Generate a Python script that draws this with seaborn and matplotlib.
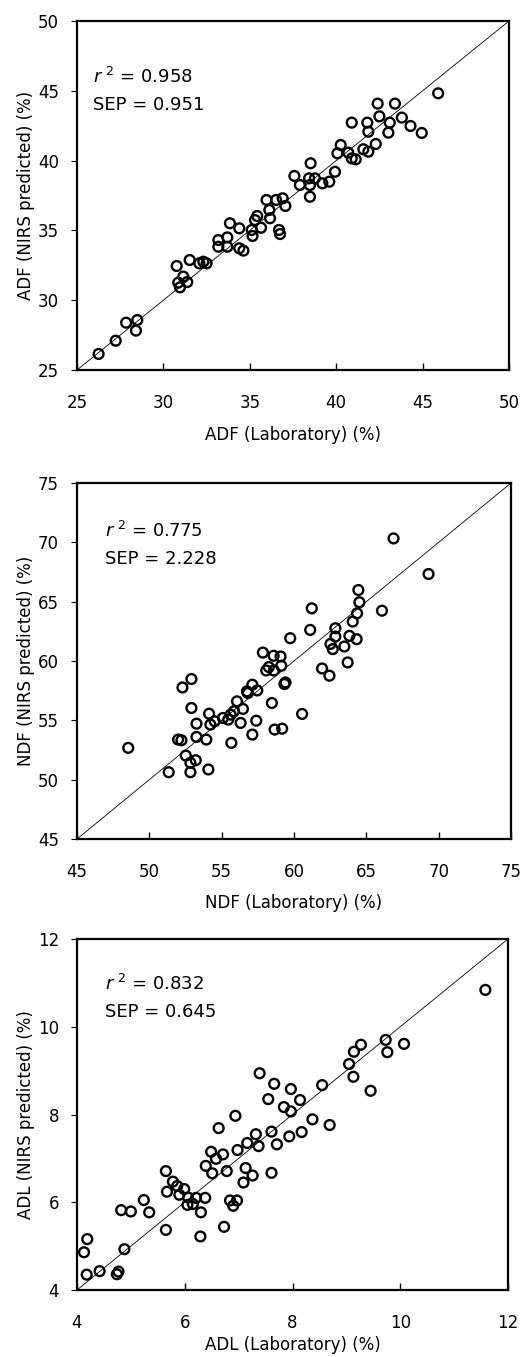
import numpy as np
import pandas as pd
import matplotlib
matplotlib.use('Agg')
import matplotlib.pyplot as plt
import seaborn as sns

# ---------------- data ----------------
adf_lab = [26.25, 27.24, 27.84, 28.49, 28.41,
           30.77, 30.86, 30.96, 31.15, 31.38, 31.52, 32.08, 32.31, 32.50,
           33.18, 33.70, 33.18, 33.70, 34.39, 34.63, 33.85, 34.39,
           35.11, 35.16, 35.65, 36.69, 36.75, 35.43, 35.30, 36.13, 36.17,
           35.97, 36.52, 36.90, 37.06,
           37.58, 37.90, 38.43, 38.48, 38.77, 38.52, 38.48,
           39.20, 39.60, 39.93,
           40.07, 40.26, 40.70, 40.90, 41.13,
           41.57, 41.86, 42.29, 41.86, 43.02, 44.95,
           40.90, 41.80, 42.40, 43.40, 42.50, 43.10, 43.80, 44.30, 45.90]
adf_nirs = [26.15, 27.10, 28.39, 28.58, 27.82,
            32.45, 31.26, 30.92, 31.69, 31.30, 32.88, 32.64, 32.76, 32.64,
            34.31, 34.50, 33.83, 33.83, 33.72, 33.55, 35.51, 35.15,
            35.03, 34.60, 35.19, 35.03, 34.74, 36.03, 35.74, 36.46, 35.87,
            37.18, 37.18, 37.30, 36.75,
            38.90, 38.25, 38.73, 38.25, 38.73, 39.81, 37.41,
            38.37, 38.49, 39.20,
            40.52, 41.12, 40.57, 40.16, 40.09,
            40.81, 40.64, 41.19, 42.07, 42.00, 41.98,
            42.72, 42.72, 44.08, 44.08, 43.17, 42.72, 43.08, 42.48, 44.82]

ndf_lab = [66.88, 69.30, 64.45, 64.52, 64.36, 66.08, 61.23, 61.12, 64.06, 62.86,
           62.86, 63.83, 64.33, 59.74, 62.52, 62.68, 63.48, 57.85,
           58.59, 59.07, 58.08, 58.26, 58.61, 59.12, 59.34, 59.41,
           61.94, 62.45, 63.71, 52.91, 52.29, 52.91,
           57.12, 56.75, 56.81, 57.46, 56.06, 55.85, 56.47, 55.62, 55.09, 55.46,
           56.31, 54.52, 54.13, 54.22, 53.26, 53.26, 53.94, 51.99, 52.22,
           48.54, 52.52, 53.21, 52.84, 52.84, 51.34, 54.08,
           55.67, 57.12, 57.39, 58.47, 58.66, 59.18, 60.56]
ndf_nirs = [70.33, 67.33, 65.98, 64.95, 64.02, 64.24, 64.44, 62.62, 63.32, 62.76,
            62.06, 62.12, 61.84, 61.92, 61.44, 61.00, 61.22, 60.71,
            60.44, 60.38, 59.20, 59.49, 59.20, 59.60, 58.06, 58.19,
            59.37, 58.76, 59.88, 58.48, 57.77, 56.04,
            58.00, 57.44, 57.30, 57.52, 56.60, 55.76, 55.96, 55.48, 55.20, 55.06,
            54.78, 54.92, 55.56, 54.64, 54.72, 53.60, 53.38, 53.38, 53.32,
            52.68, 52.03, 51.64, 51.42, 50.63, 50.63, 50.86,
            53.10, 53.80, 54.97, 56.46, 54.22, 54.30, 55.54]

adl_lab = [11.58, 9.73, 9.76, 10.07, 9.27, 9.14, 9.05, 9.13, 9.45, 8.55,
           7.39, 7.66, 7.97, 7.55, 8.14, 7.84, 7.97, 6.94, 8.37,
           6.63, 8.69, 8.17, 7.61, 7.32, 7.94, 7.71, 7.37, 7.16, 6.98,
           6.49, 6.71, 6.58, 6.39, 6.51, 6.78, 7.13, 7.26, 7.61, 7.09,
           5.65, 5.67, 5.78, 5.86, 5.99, 5.90, 6.06, 6.05, 6.15, 6.21, 6.38, 6.30,
           5.24, 5.34, 5.00, 4.82, 5.65, 6.29, 6.73, 6.84, 6.97, 6.90,
           4.19, 4.13, 4.88, 4.18, 4.42, 4.77, 4.74]
adl_nirs = [10.84, 9.70, 9.42, 9.61, 9.59, 9.43, 9.15, 8.86, 8.54, 8.67,
            8.94, 8.70, 8.58, 8.35, 8.33, 8.17, 8.07, 7.97, 7.89,
            7.69, 7.76, 7.60, 7.61, 7.55, 7.50, 7.32, 7.28, 7.35, 7.19,
            7.15, 7.09, 6.99, 6.83, 6.66, 6.71, 6.78, 6.61, 6.67, 6.45,
            6.71, 6.24, 6.47, 6.37, 6.30, 6.17, 6.11, 5.94, 5.96, 6.10, 6.10, 5.77,
            6.05, 5.77, 5.79, 5.82, 5.37, 5.22, 5.44, 6.04, 6.04, 5.92,
            5.16, 4.86, 4.93, 4.35, 4.43, 4.42, 4.36]

names = ['ADF', 'NDF', 'ADL']
stats_r2 = ['0.958', '0.775', '0.832']
stats_sep = ['0.951', '2.228', '0.645']
limits = [(25, 50), (45, 75), (4, 12)]
tick_steps = [5, 5, 2]
lab_values = [adf_lab, ndf_lab, adl_lab]
nirs_values = [adf_nirs, ndf_nirs, adl_nirs]

# ---------------- figure ----------------
sns.set_style('white')
plt.rcParams['font.family'] = ['DejaVu Sans']
plt.rcParams['mathtext.fontset'] = 'dejavusans'
for key in ['text.color', 'axes.labelcolor', 'xtick.color', 'ytick.color']:
    plt.rcParams[key] = 'black'

W, H = 529, 1357
fig = plt.figure(figsize=(W / 100, H / 100), dpi=100)

# axes boxes in pixels: left, top, right, bottom
boxes = [(77, 21, 509, 370), (77, 483, 511, 839), (77, 939, 508, 1290)]
text_pos = [(0.037, 0.822, 0.745), (0.064, 0.849, 0.772), (0.065, 0.855, 0.779)]
xlabel_pads = [10, 10, 3]

for i in range(3):
    l, t, r, b = boxes[i]
    ax = fig.add_axes([l / W, 1 - b / H, (r - l) / W, (b - t) / H])
    lo, hi = limits[i]
    df = pd.DataFrame({'lab': lab_values[i], 'nirs': nirs_values[i]})

    # 1:1 line
    ax.plot([lo, hi], [lo, hi], color='black', lw=0.6, zorder=1)
    sns.scatterplot(data=df, x='lab', y='nirs', ax=ax, s=50, marker='o',
                    facecolor='none', edgecolor='black', linewidth=1.7, zorder=2)

    ax.set_xlim(lo, hi)
    ax.set_ylim(lo, hi)
    ticks = np.arange(lo, hi + 0.01, tick_steps[i])
    ax.set_xticks(ticks)
    ax.set_yticks(ticks)
    ax.tick_params(axis='x', direction='in', length=5, width=1, pad=17,
                   labelsize=12, bottom=True)
    ax.tick_params(axis='y', direction='out', length=4, width=0.8, pad=9,
                   labelsize=12, left=True)
    for sp in ax.spines.values():
        sp.set_linewidth(1.6)
        sp.set_color('black')

    ax.set_xlabel(names[i] + ' (Laboratory) (%)', fontsize=12, labelpad=xlabel_pads[i])
    ax.set_ylabel(names[i] + ' (NIRS predicted) (%)', fontsize=12, labelpad=2)

    tx, ty1, ty2 = text_pos[i]
    ax.text(tx, ty1, r'$\mathit{r}^{\ 2}$ = ' + stats_r2[i], transform=ax.transAxes,
            fontsize=13, va='baseline', ha='left')
    ax.text(tx, ty2, 'SEP = ' + stats_sep[i], transform=ax.transAxes,
            fontsize=13, va='baseline', ha='left')

fig.savefig('out.png', dpi=100)
